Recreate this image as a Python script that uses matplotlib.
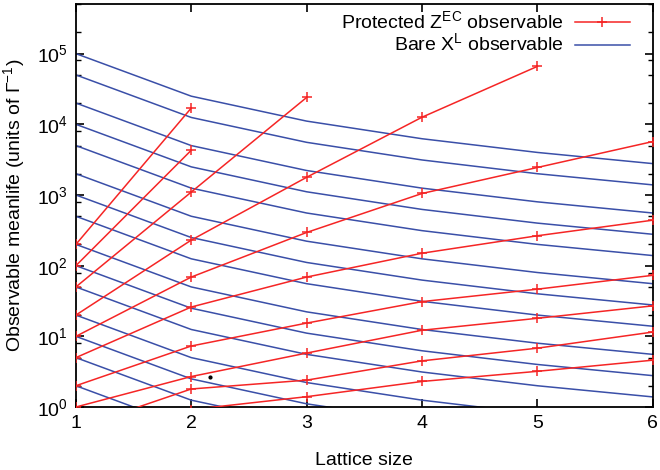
#!/usr/bin/env python
# coding: utf-8

import numpy as np
import matplotlib.pyplot as plt
from matplotlib.ticker import LogLocator, NullFormatter

# lattice sizes
L = [1, 2, 3, 4, 5, 6]

# protected Z^EC observable, one list per curve
red_200 = [200, 1.7e4]
red_100 = [100, 4.3e3]
red_50 = [50, 1.1e3, 2.4e4]
red_20 = [20, 230, 1.78e3, 1.26e4, 6.6e4]
red_10 = [10, 69, 295, 1.05e3, 2.45e3, 5.7e3]
red_5 = [5, 26, 69, 150, 265, 440]
red_2 = [2, 7.3, 15.4, 31, 46.5, 73]
red_1 = [1, 2.7, 5.8, 12.2, 18, 27]
red_05 = [0.5, 1.8, 2.4, 4.5, 6.8, 11.5]
red_02 = [0.2, 0.92, 1.4, 2.3, 3.2, 4.6]

# bare X^L observable
blue_1e5 = [100000, 25000, 11100, 6250, 4000, 2780]
blue_5e4 = [50000, 12500, 5560, 3130, 2000, 1390]
blue_2e4 = [20000, 5000, 2220, 1250, 800, 556]
blue_1e4 = [10000, 2500, 1110, 625, 400, 278]
blue_5e3 = [5000, 1250, 556, 313, 200, 139]
blue_2e3 = [2000, 500, 222, 125, 80, 55.6]
blue_1e3 = [1000, 250, 111, 62.5, 40, 27.8]
blue_500 = [500, 125, 55.6, 31.3, 20, 13.9]
blue_200 = [200, 50, 22.2, 12.5, 8, 5.56]
blue_100 = [100, 25, 11.1, 6.25, 4, 2.78]
blue_50 = [50, 12.5, 5.56, 3.13, 2, 1.39]
blue_20 = [20, 5, 2.22, 1.25, 0.8, 0.56]
blue_10 = [10, 2.5, 1.11, 0.63, 0.4, 0.28]
blue_5 = [5, 1.25, 0.56, 0.31, 0.2, 0.14]
blue_2 = [2, 0.5, 0.22, 0.13, 0.08, 0.06]
blue_1 = [1, 0.25, 0.11, 0.06, 0.04, 0.03]

# stray dot in the original figure
dot_x = [2.16]
dot_y = [2.65]

red_curves = [red_200, red_100, red_50, red_20, red_10, red_5,
              red_2, red_1, red_05, red_02]
blue_curves = [blue_1e5, blue_5e4, blue_2e4, blue_1e4, blue_5e3, blue_2e3,
               blue_1e3, blue_500, blue_200, blue_100, blue_50, blue_20,
               blue_10, blue_5, blue_2, blue_1]

red_col = '#f52525'
blue_col = '#3a4fa8'

plt.rcParams['font.family'] = ['Liberation Sans', 'DejaVu Sans']
plt.rcParams['mathtext.fontset'] = 'custom'
plt.rcParams['mathtext.rm'] = 'Liberation Sans'

fig = plt.figure(figsize=(6.6, 4.7), dpi=100)
ax = fig.add_subplot(111)
fig.subplots_adjust(left=0.115, right=0.989, top=0.991, bottom=0.134)

for i, c in enumerate(red_curves):
    ax.plot(L[:len(c)], c, color=red_col, lw=1.1, marker='+', ms=6.5, mew=1.1,
            label=r'Protected Z$^{\rm EC}$ observable' if i == 0 else None,
            zorder=3)
for i, c in enumerate(blue_curves):
    ax.plot(L[:len(c)], c, color=blue_col, lw=1.1,
            label=r'Bare X$^{\rm L}$ observable' if i == 0 else None,
            zorder=2)

ax.plot(dot_x, dot_y, 'k.', ms=4)

ax.set_yscale('log')
ax.set_xlim(1, 6)
ax.set_ylim(1, 5e5)
ax.set_xticks(L)
ax.yaxis.set_major_locator(LogLocator(base=10, numticks=10))
ax.yaxis.set_minor_locator(LogLocator(base=10, subs=(2, 5, 8), numticks=10))
ax.yaxis.set_minor_formatter(NullFormatter())
ax.set_yticks([1, 10, 100, 1e3, 1e4, 1e5])
ax.tick_params(which='both', direction='in', top=True, right=True, labelsize=14)
ax.tick_params(which='major', length=6, width=1.2, pad=6)
ax.tick_params(which='minor', length=3.5, width=1)
for s in ax.spines.values():
    s.set_linewidth(1.3)

ax.set_xlabel('Lattice size', fontsize=14, labelpad=14)
ax.set_ylabel(r'Observable meanlife (units of $\Gamma^{-1}$)', fontsize=14,
              labelpad=6)

ax.legend(loc='upper right', bbox_to_anchor=(0.96, 0.985), markerfirst=False,
          frameon=False, fontsize=14, handlelength=2.8, labelspacing=0.0,
          borderpad=0, borderaxespad=0, handletextpad=0.6)

plt.savefig('out.png', dpi=100)
